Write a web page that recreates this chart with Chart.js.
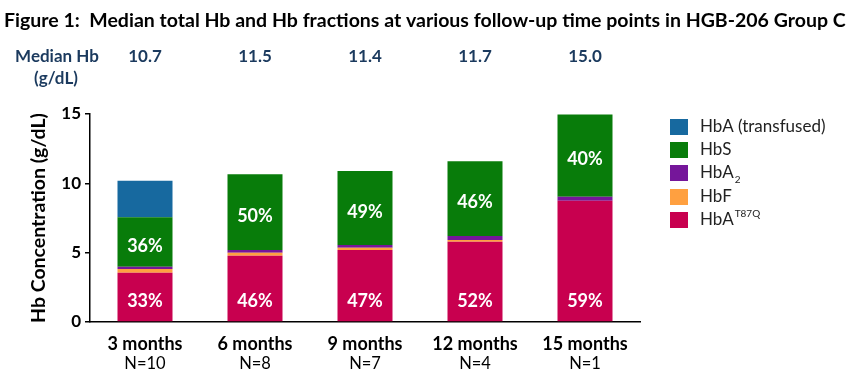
<!DOCTYPE html>
<html><head><meta charset="utf-8">
<script src="https://cdn.jsdelivr.net/npm/chart.js@4"></script>
<style>html,body{margin:0;padding:0;background:#fff}#wrap{width:850px;height:381px;position:relative}</style>
</head><body><div id="wrap"><canvas id="c" width="850" height="381"></canvas></div>
<script>
const titleText = "Figure 1:  Median total Hb and Hb fractions at various follow-up time points in HGB-206 Group C";
const categories = ["3 months","6 months","9 months","12 months","15 months"];
const sampleSizes = ["N=10","N=8","N=7","N=4","N=1"];
const medianHb = ["10.7","11.5","11.4","11.7","15.0"];
const hbaT87Q = [3.55,4.78,5.19,5.79,8.75];
const hbF = [0.27,0.22,0.17,0.12,0];
const hbA2 = [0.17,0.19,0.19,0.29,0.29];
const hbS = [3.56,5.46,5.34,5.40,5.93];
const hbaTransfused = [2.64,0,0,0,0];
const pctT87Q = ["33%","46%","47%","52%","59%"];
const pctHbS = ["36%","50%","49%","46%","40%"];
const yTicks = [0,5,10,15];

const C = {blue:"#17699F", green:"#087C0A", purple:"#75169A", orange:"#FFA040", pink:"#C8004F", navy:"#1B3A5E"};
const FONT = "Lato, 'Open Sans', sans-serif";

// legend entries (top to bottom), parts allow sub/superscripts
const legendEntries = [
  {color:C.blue, parts:[{t:"HbA (transfused)"}]},
  {color:C.green, parts:[{t:"HbS"}]},
  {color:C.purple, parts:[{t:"HbA"},{t:"2",sub:true}]},
  {color:C.orange, parts:[{t:"HbF"}]},
  {color:C.pink, parts:[{t:"HbA"},{t:"T87Q",sup:true}]}
];

const decor = {
  id:"decor",
  afterDraw(chart){
    const ctx = chart.ctx, xs = chart.scales.x, ys = chart.scales.y;
    ctx.save();
    // title
    ctx.fillStyle = "#000";
    ctx.textBaseline = "middle";
    ctx.textAlign = "left";
    let fs = 20;
    ctx.font = `bold ${fs}px ${FONT}`;
    const w = ctx.measureText(titleText).width;
    fs = Math.min(22, fs * 842 / w);
    ctx.font = `bold ${fs}px ${FONT}`;
    ctx.fillText(titleText, 4, 21);
    // median Hb row
    ctx.fillStyle = C.navy;
    ctx.textAlign = "center";
    ctx.font = `bold 17px ${FONT}`;
    ctx.fillText("Median Hb", 57, 57);
    ctx.fillText("(g/dL)", 56, 79);
    medianHb.forEach((v,i)=>{ ctx.fillText(v, xs.getPixelForValue(i), 57); });
    // x labels
    ctx.fillStyle = "#000";
    categories.forEach((c,i)=>{
      const x = xs.getPixelForValue(i);
      ctx.font = `bold 18px ${FONT}`;
      ctx.fillText(c, x, 344);
      ctx.font = `16.5px ${FONT}`;
      ctx.fillText(sampleSizes[i], x, 364);
    });
    // bar percentage labels
    ctx.fillStyle = "#fff";
    ctx.font = `bold 18px ${FONT}`;
    const m0 = chart.getDatasetMeta(0), m3 = chart.getDatasetMeta(3);
    m0.data.forEach((el,i)=>{ ctx.fillText(pctT87Q[i], el.x, el.base - 20); });
    m3.data.forEach((el,i)=>{ ctx.fillText(pctHbS[i], el.x, (el.y + el.base)/2 + 4); });
    // legend
    ctx.textAlign = "left";
    const rows = [127,150,173,197,220];
    legendEntries.forEach((e,k)=>{
      const cy = rows[k];
      ctx.fillStyle = e.color;
      ctx.fillRect(670, cy - 8, 18, 16);
      ctx.fillStyle = "#222";
      let x = 700;
      e.parts.forEach(p=>{
        if (p.sub){ ctx.font = `10px ${FONT}`; ctx.fillText(p.t, x+1, cy+7); x += ctx.measureText(p.t).width+1; }
        else if (p.sup){ ctx.font = `10px ${FONT}`; ctx.fillText(p.t, x+1, cy-6); x += ctx.measureText(p.t).width+1; }
        else { ctx.font = `17px ${FONT}`; ctx.fillText(p.t, x, cy); x += ctx.measureText(p.t).width; }
      });
    });
    ctx.restore();
  }
};

new Chart(document.getElementById("c"), {
  type:"bar",
  data:{
    labels: categories,
    datasets:[
      {label:"HbA T87Q", data:hbaT87Q, backgroundColor:C.pink},
      {label:"HbF", data:hbF, backgroundColor:C.orange},
      {label:"HbA2", data:hbA2, backgroundColor:C.purple},
      {label:"HbS", data:hbS, backgroundColor:C.green},
      {label:"HbA (transfused)", data:hbaTransfused, backgroundColor:C.blue}
    ]
  },
  options:{
    responsive:false, animation:false, devicePixelRatio:1,
    layout:{padding:{left:0,right:210,top:114,bottom:0}},
    datasets:{bar:{barPercentage:0.5, categoryPercentage:1.0, borderWidth:0}},
    plugins:{legend:{display:false}, title:{display:false}, tooltip:{enabled:false}},
    scales:{
      x:{stacked:true, offset:true,
        grid:{display:false},
        border:{display:true,color:"#000",width:1.5},
        ticks:{display:false},
        afterFit(s){ s.height = 59; }
      },
      y:{stacked:true, min:0, max:15,
        afterBuildTicks(s){ s.ticks = yTicks.map(v=>({value:v})); },
        grid:{drawOnChartArea:false, drawTicks:true, tickLength:5, color:"#000", lineWidth:1.5},
        border:{display:true,color:"#000",width:1.5},
        ticks:{color:"#000", padding:4, font:{family:FONT, size:17, weight:"bold"}},
        title:{display:true, text:"Hb Concentration (g/dL)", color:"#000", font:{family:FONT,size:19.5,weight:"bold"}, padding:{top:27,bottom:0}},
        afterFit(s){ s.width = 90; }
      }
    }
  },
  plugins:[decor]
});
</script>
</body></html>
